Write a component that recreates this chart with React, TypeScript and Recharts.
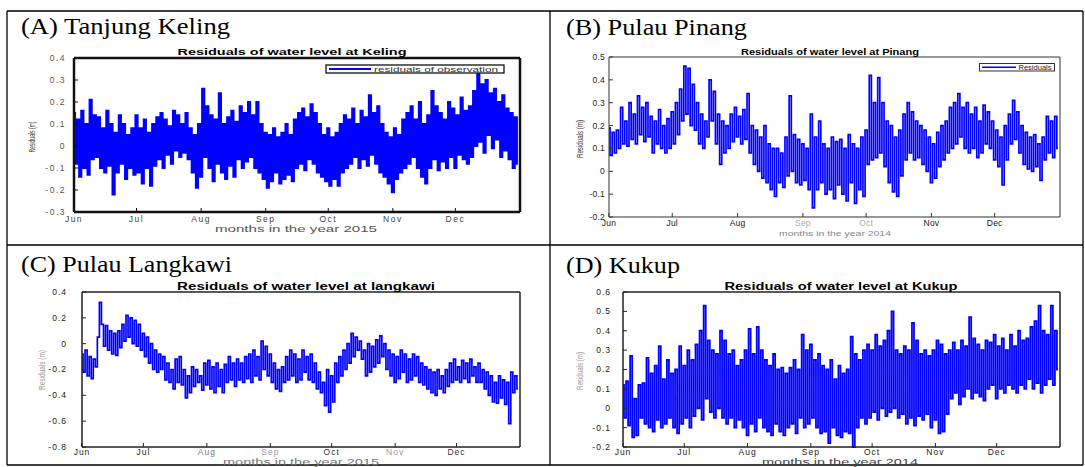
import React from 'react';
import { LineChart, Line, XAxis, YAxis } from 'recharts';

// day offsets of the month starts, Jun 1 .. Dec 1
const monthTicks = [0, 30, 61, 92, 122, 153, 183];
const monthLabels = ['Jun', 'Jul', 'Aug', 'Sep', 'Oct', 'Nov', 'Dec'];

// daily residuals (m) (high / low swing of each day)
const kelingResiduals = [
  0.15, -0.08, 0.12, -0.14, 0.16, -0.1, 0.1, -0.13, 0.21, -0.06,
  0.14, -0.05, 0.13, -0.1, 0.08, -0.12, 0.16, -0.09, 0.1, -0.22,
  0.06, -0.12, 0.14, -0.08, 0.1, -0.15, 0.05, -0.1, 0.08, -0.13,
  0.14, -0.12, 0.08, -0.17, 0.12, -0.1, 0.06, -0.18, 0.1, -0.09,
  0.13, -0.06, 0.15, -0.1, 0.12, -0.04, 0.09, -0.08, 0.16, -0.02,
  0.14, -0.05, 0.1, -0.03, 0.15, -0.06, 0.08, -0.12, 0.05, -0.19,
  0.1, -0.14, 0.26, -0.05, 0.18, -0.1, 0.14, -0.16, 0.12, -0.08,
  0.24, -0.12, 0.1, -0.15, 0.13, -0.09, 0.16, -0.14, 0.11, -0.06,
  0.18, -0.1, 0.15, -0.07, 0.2, -0.05, 0.14, -0.1, 0.2, -0.12,
  0.1, -0.15, 0.06, -0.19, 0.05, -0.16, 0.08, -0.12, 0.04, -0.17,
  0.06, -0.15, 0.1, -0.13, 0.05, -0.16, 0.12, -0.1, 0.15, -0.08,
  0.17, -0.11, 0.13, -0.06, 0.19, -0.08, 0.15, -0.12, 0.1, -0.14,
  0.05, -0.16, 0.08, -0.18, 0.04, -0.15, 0.06, -0.18, 0.1, -0.12,
  0.14, -0.1, 0.12, -0.08, 0.17, -0.05, 0.1, -0.1, 0.16, -0.06,
  0.13, -0.09, 0.23, -0.04, 0.15, -0.08, 0.18, -0.12, 0.1, -0.14,
  0.06, -0.17, 0.04, -0.21, 0.08, -0.15, 0.05, -0.12, 0.12, -0.1,
  0.15, -0.08, 0.18, -0.05, 0.12, -0.1, 0.2, -0.14, 0.1, -0.17,
  0.14, -0.1, 0.25, -0.06, 0.18, -0.11, 0.15, -0.07, 0.12, -0.1,
  0.2, -0.05, 0.17, -0.1, 0.14, -0.04, 0.22, -0.06, 0.16, -0.08,
  0.18, -0.05, 0.25, 0.0, 0.34, 0.02, 0.28, -0.03, 0.3, 0.05,
  0.24, -0.01, 0.26, 0.03, 0.2, -0.05, 0.23, -0.02, 0.17, -0.06,
  0.15, -0.1, 0.13, -0.08,
];

const pinangResiduals = [
  0.19, 0.07, 0.17, 0.08, 0.18, 0.1, 0.28, 0.12, 0.22, 0.11,
  0.3, 0.14, 0.25, 0.12, 0.33, 0.16, 0.28, 0.13, 0.3, 0.15,
  0.24, 0.08, 0.22, 0.12, 0.27, 0.1, 0.2, 0.08, 0.23, 0.1,
  0.26, 0.12, 0.3, 0.16, 0.36, 0.22, 0.46, 0.25, 0.45, 0.2,
  0.38, 0.18, 0.3, 0.12, 0.25, 0.1, 0.22, 0.15, 0.4, 0.22,
  0.35, 0.12, 0.25, 0.03, 0.22, 0.08, 0.2, 0.1, 0.25, 0.13,
  0.28, 0.15, 0.24, 0.12, 0.27, 0.14, 0.34, 0.08, 0.2, 0.03,
  0.18, 0.0, 0.15, -0.03, 0.2, -0.05, 0.12, -0.08, 0.1, -0.11,
  0.1, -0.05, 0.08, -0.07, 0.15, -0.02, 0.33, 0.0, 0.16, -0.05,
  0.14, -0.06, 0.12, -0.04, 0.1, -0.08, 0.25, -0.16, 0.15, -0.08,
  0.22, -0.05, 0.12, -0.1, 0.1, -0.08, 0.15, -0.12, 0.13, -0.06,
  0.14, -0.1, 0.1, -0.13, 0.16, -0.05, 0.12, -0.14, 0.1, -0.08,
  0.15, -0.11, 0.18, 0.03, 0.42, 0.05, 0.3, 0.06, 0.41, 0.08,
  0.3, 0.02, 0.22, -0.05, 0.2, -0.09, 0.15, -0.11, 0.18, -0.02,
  0.25, 0.05, 0.3, 0.08, 0.26, 0.05, 0.22, 0.06, 0.2, 0.03,
  0.18, 0.0, 0.15, -0.05, 0.12, -0.03, 0.17, 0.02, 0.2, 0.05,
  0.22, 0.08, 0.28, 0.1, 0.3, 0.12, 0.34, 0.15, 0.28, 0.1,
  0.3, 0.08, 0.25, 0.1, 0.28, 0.06, 0.22, 0.08, 0.29, 0.12,
  0.26, 0.1, 0.22, 0.05, 0.18, 0.02, 0.15, -0.06, 0.2, 0.05,
  0.25, 0.12, 0.31, 0.14, 0.26, 0.08, 0.2, 0.03, 0.17, 0.01,
  0.15, 0.0, 0.16, 0.02, 0.12, -0.04, 0.15, 0.05, 0.24, 0.08,
  0.22, 0.06, 0.24, 0.1,
];

const langkawiResiduals = [
  -0.08, -0.22, -0.05, -0.25, -0.1, -0.27, -0.12, -0.18, 0.05, 0.32,
  0.15, -0.02, 0.14, -0.05, 0.1, -0.08, 0.08, -0.09, 0.1, -0.03,
  0.15, 0.02, 0.22, 0.05, 0.2, 0.0, 0.18, -0.02, 0.15, -0.05,
  0.08, -0.1, 0.05, -0.15, 0.0, -0.2, -0.05, -0.22, -0.08, -0.2,
  -0.1, -0.28, -0.15, -0.3, -0.2, -0.35, -0.12, -0.3, -0.1, -0.32,
  -0.2, -0.42, -0.25, -0.38, -0.18, -0.33, -0.2, -0.3, -0.25, -0.36,
  -0.15, -0.32, -0.13, -0.35, -0.18, -0.38, -0.15, -0.33, -0.2, -0.38,
  -0.16, -0.3, -0.1, -0.28, -0.15, -0.33, -0.12, -0.28, -0.15, -0.3,
  -0.1, -0.27, -0.08, -0.3, -0.05, -0.25, -0.1, -0.28, 0.02, -0.2,
  -0.02, -0.25, -0.08, -0.3, -0.15, -0.35, -0.2, -0.37, -0.18, -0.3,
  -0.1, -0.28, -0.05, -0.25, -0.08, -0.3, -0.12, -0.28, -0.05, -0.22,
  -0.1, -0.28, -0.08, -0.3, -0.15, -0.35, -0.22, -0.38, -0.3, -0.48,
  -0.2, -0.53, -0.25, -0.45, -0.15, -0.3, -0.1, -0.25, -0.05, -0.2,
  0.0, -0.15, 0.08, -0.1, 0.05, -0.05, 0.02, -0.12, -0.05, -0.25,
  0.0, -0.22, -0.02, -0.18, 0.03, -0.15, 0.06, -0.1, 0.0, -0.2,
  -0.05, -0.25, -0.08, -0.3, -0.1, -0.27, -0.05, -0.22, -0.08, -0.3,
  -0.12, -0.28, -0.08, -0.25, -0.1, -0.3, -0.15, -0.32, -0.18, -0.35,
  -0.2, -0.38, -0.22, -0.4, -0.2, -0.35, -0.25, -0.38, -0.2, -0.33,
  -0.15, -0.3, -0.12, -0.28, -0.18, -0.3, -0.13, -0.27, -0.15, -0.3,
  -0.12, -0.25, -0.18, -0.3, -0.15, -0.3, -0.2, -0.35, -0.22, -0.4,
  -0.25, -0.45, -0.3, -0.46, -0.25, -0.42, -0.28, -0.47, -0.3, -0.62,
  -0.22, -0.38, -0.25, -0.35,
];

const kukupResiduals = [
  0.12, -0.05, 0.14, -0.09, 0.27, -0.15, 0.05, -0.14, 0.12, -0.05,
  0.13, -0.08, 0.26, -0.1, 0.18, -0.12, 0.22, -0.06, 0.32, -0.1,
  0.15, -0.08, 0.25, -0.05, 0.18, -0.1, 0.2, -0.13, 0.32, -0.08,
  0.22, -0.05, 0.3, -0.1, 0.25, -0.04, 0.33, 0.0, 0.4, -0.06,
  0.53, 0.05, 0.35, -0.02, 0.3, -0.05, 0.28, 0.0, 0.4, -0.05,
  0.35, -0.08, 0.28, -0.05, 0.3, -0.1, 0.22, -0.06, 0.25, -0.1,
  0.3, -0.14, 0.41, -0.08, 0.28, -0.12, 0.42, -0.05, 0.3, -0.1,
  0.25, -0.12, 0.22, -0.14, 0.28, -0.08, 0.2, -0.12, 0.21, -0.14,
  0.18, -0.1, 0.21, -0.08, 0.25, -0.13, 0.2, -0.05, 0.38, -0.1,
  0.3, -0.08, 0.33, -0.05, 0.25, -0.1, 0.28, -0.13, 0.22, -0.12,
  0.2, -0.18, 0.25, -0.1, 0.15, -0.14, 0.22, -0.15, 0.18, -0.12,
  0.2, -0.13, 0.37, -0.2, 0.28, -0.1, 0.25, -0.05, 0.3, -0.08,
  0.33, -0.05, 0.3, -0.02, 0.38, -0.06, 0.32, 0.0, 0.35, -0.04,
  0.4, -0.02, 0.5, 0.0, 0.3, -0.05, 0.28, -0.03, 0.32, -0.08,
  0.3, -0.05, 0.44, -0.09, 0.35, -0.04, 0.28, -0.06, 0.3, -0.03,
  0.27, -0.1, 0.3, -0.06, 0.35, -0.13, 0.33, -0.12, 0.28, -0.03,
  0.3, 0.05, 0.34, 0.08, 0.3, 0.02, 0.35, 0.06, 0.32, 0.1,
  0.47, 0.05, 0.36, 0.08, 0.33, 0.06, 0.3, 0.04, 0.35, 0.1,
  0.34, 0.12, 0.38, 0.05, 0.32, 0.1, 0.36, 0.08, 0.3, 0.12,
  0.38, 0.1, 0.32, 0.08, 0.4, 0.12, 0.35, 0.1, 0.36, 0.15,
  0.42, 0.1, 0.45, 0.13, 0.53, 0.08, 0.4, 0.12, 0.38, 0.15,
  0.53, 0.12, 0.4, 0.2,
];

const kelingTicks = [-0.3, -0.2, -0.1, 0, 0.1, 0.2, 0.3, 0.4];
const pinangTicks = [-0.2, -0.1, 0, 0.1, 0.2, 0.3, 0.4, 0.5];
const langkawiTicks = [-0.8, -0.6, -0.4, -0.2, 0, 0.2, 0.4];
const kukupTicks = [-0.2, -0.1, 0, 0.1, 0.2, 0.3, 0.4, 0.5, 0.6];

const SANS = '"Liberation Sans", Arial, sans-serif';
const SERIF = '"Liberation Serif", "Times New Roman", serif';
const BLUE = '#0000ff';

const PAD_L = 60;
const PAD_T = 20;
const PAD_R = 10;
const PAD_B = 30;

interface Box { x: number; y: number; w: number; h: number }

interface ChartProps {
  values: number[];
  box: Box;
  yDomain: [number, number];
  yTicks: number[];
  axisColor: string;
  axisWidth: number;
  fontSize: number;
  spacing: number;
  yTickColor: string;
  monthColors: string[];
  yGap: number;
  xGap: number;
  lineWidth: number;
}

const ResidualChart = ({
  values, box, yDomain, yTicks, axisColor, axisWidth, fontSize, spacing, yTickColor, monthColors, yGap, xGap, lineWidth,
}: ChartProps) => {
  const rows = values.map((v, i) => ({ day: i, v }));

  const MonthTick = (p: any) => (
    <text x={p.x} y={p.y} dy="0.35em" textAnchor="middle" fontFamily={SANS} fontSize={fontSize}
      letterSpacing={spacing} fill={monthColors[p.index] || '#222'}>
      {monthLabels[p.index]}
    </text>
  );
  const ValueTick = (p: any) => (
    <text x={p.x} y={p.y} dy="0.35em" textAnchor="end" fontFamily={SANS} fontSize={fontSize}
      letterSpacing={spacing} fill={yTickColor}>
      {String(p.payload.value)}
    </text>
  );

  const line = { stroke: axisColor, strokeWidth: axisWidth };
  const tickLine = { stroke: axisColor, strokeWidth: 1 };

  return (
    <div style={{ position: 'absolute', left: box.x - PAD_L, top: box.y - PAD_T }}>
      <LineChart
        width={box.w + PAD_L + PAD_R}
        height={box.h + PAD_T + PAD_B}
        data={rows}
        margin={{ top: 0, right: 0, bottom: 0, left: 0 }}
      >
        <XAxis xAxisId="b" dataKey="day" type="number" domain={[0, 214]} ticks={monthTicks}
          height={PAD_B} interval={0} axisLine={line} tickLine={tickLine} tickSize={-4} tickMargin={4 + xGap}
          tick={<MonthTick />} />
        <XAxis xAxisId="t" orientation="top" dataKey="day" type="number" domain={[0, 214]} ticks={monthTicks}
          height={PAD_T} interval={0} axisLine={line} tickLine={tickLine} tickSize={-4} tick={false} />
        <YAxis yAxisId="l" type="number" domain={yDomain} ticks={yTicks} width={PAD_L} interval={0}
          axisLine={line} tickLine={tickLine} tickSize={-4} tickMargin={4 + yGap} tick={<ValueTick />} />
        <YAxis yAxisId="r" orientation="right" type="number" domain={yDomain} ticks={yTicks} width={PAD_R}
          interval={0} axisLine={line} tickLine={tickLine} tickSize={-4} tick={false} />
        <Line xAxisId="b" yAxisId="l" type="step" dataKey="v" stroke={BLUE} strokeWidth={lineWidth}
          dot={false} activeDot={false} isAnimationActive={false} />
      </LineChart>
    </div>
  );
};

const boxA: Box = { x: 74, y: 58, w: 446, h: 154 };
const boxB: Box = { x: 609, y: 57, w: 451, h: 160 };
const boxC: Box = { x: 82, y: 292, w: 438, h: 155 };
const boxD: Box = { x: 623, y: 292, w: 437, h: 155 };

const Fit = ({ x, y, w, size, children, anchor = 'middle', weight = 400, color = '#000', family = SANS }: any) => (
  <text x={x} y={y} textAnchor={anchor} fontFamily={family} fontSize={size} fontWeight={weight} fill={color}
    textLength={w} lengthAdjust="spacingAndGlyphs">
    {children}
  </text>
);

const YLabel = ({ x, y, len, color, size = 9 }: any) => (
  <text transform={`translate(${x},${y}) rotate(-90)`} textAnchor="middle" dominantBaseline="central"
    fontFamily={SANS} fontSize={size} fill={color} textLength={len} lengthAdjust="spacingAndGlyphs">
    Residuals (m)
  </text>
);

export default function App() {
  return (
    <div style={{ position: 'absolute', left: 0, top: 0, width: 1085, height: 467, background: '#fff', overflow: 'hidden' }}>
      <ResidualChart values={kelingResiduals} box={boxA} yDomain={[-0.3, 0.4]} yTicks={kelingTicks}
        axisColor="#111" axisWidth={2.5} fontSize={8.5} spacing={1.5} yTickColor="#555"
        monthColors={['#444', '#444', '#444', '#444', '#444', '#444', '#444']} yGap={8} xGap={7} lineWidth={2.1} />
      <ResidualChart values={pinangResiduals} box={boxB} yDomain={[-0.2, 0.5]} yTicks={pinangTicks}
        axisColor="#333" axisWidth={1} fontSize={8.5} spacing={0.2} yTickColor="#222"
        monthColors={['#222', '#222', '#222', '#aaa', '#aaa', '#222', '#222']} yGap={4} xGap={6} lineWidth={1.7} />
      <ResidualChart values={langkawiResiduals} box={boxC} yDomain={[-0.8, 0.4]} yTicks={langkawiTicks}
        axisColor="#222" axisWidth={1.5} fontSize={8.5} spacing={1} yTickColor="#222"
        monthColors={['#222', '#222', '#777', '#999', '#333', '#999', '#333']} yGap={15} xGap={5} lineWidth={1.7} />
      <ResidualChart values={kukupResiduals} box={boxD} yDomain={[-0.2, 0.6]} yTicks={kukupTicks}
        axisColor="#222" axisWidth={1.5} fontSize={8.5} spacing={1} yTickColor="#222"
        monthColors={['#222', '#222', '#222', '#222', '#222', '#222', '#222']} yGap={12} xGap={5} lineWidth={1.8} />

      <svg width={1085} height={467} style={{ position: 'absolute', left: 0, top: 0, pointerEvents: 'none' }}>
        {/* table grid */}
        <g stroke="#000" strokeWidth={1.3}>
          <line x1={7} y1={11} x2={1083} y2={11} />
          <line x1={7} y1={465} x2={1083} y2={465} />
          <line x1={7} y1={11} x2={7} y2={465} />
          <line x1={1083} y1={11} x2={1083} y2={465} />
          <line x1={550} y1={11} x2={550} y2={465} />
          <line x1={7} y1={245} x2={1083} y2={245} />
        </g>

        {/* panel captions */}
        <Fit x={21} y={34} w={209} size={23} anchor="start" family={SERIF}>(A) Tanjung Keling</Fit>
        <Fit x={566} y={35} w={181} size={23} anchor="start" family={SERIF}>(B) Pulau Pinang</Fit>
        <Fit x={21} y={272} w={211} size={23} anchor="start" family={SERIF}>(C) Pulau Langkawi</Fit>
        <Fit x={566} y={273} w={114} size={23} anchor="start" family={SERIF}>(D) Kukup</Fit>

        {/* chart titles */}
        <Fit x={292} y={55} w={229} size={9} weight={700}>Residuals of water level at Keling</Fit>
        <Fit x={830} y={55} w={178} size={9} weight={700}>Residuals of water level at Pinang</Fit>
        <Fit x={306} y={289.5} w={258} size={10} weight={700}>Residuals of water level at langkawi</Fit>
        <Fit x={841} y={289.5} w={233} size={10} weight={700}>Residuals of water level at Kukup</Fit>

        {/* x labels */}
        <Fit x={296} y={232} w={162} size={9} color="#555">months in the year 2015</Fit>
        <Fit x={835} y={236} w={112} size={8} color="#888">months in the year 2014</Fit>
        <Fit x={301} y={465} w={156} size={8.5} color="#777">months in the year 2015</Fit>
        <Fit x={840} y={465} w={156} size={8.5} color="#444">months in the year 2014</Fit>

        {/* y labels */}
        <YLabel x={32} y={137} len={31} color="#444" />
        <YLabel x={580} y={139} len={38} color="#333" />
        <YLabel x={42} y={370} len={40} color="#999" />
        <YLabel x={580} y={371} len={38} color="#999" />

        {/* legend A */}
        <rect x={326} y={65} width={178} height={8} fill="#fff" stroke="#111" strokeWidth={1.3} />
        <line x1={329} y1={69} x2={371} y2={69} stroke={BLUE} strokeWidth={2} />
        <Fit x={374} y={71.6} w={124} size={7.5} anchor="start" color="#333">residuals of observation</Fit>

        {/* legend B */}
        <rect x={979.5} y={63.5} width={75} height={7.5} fill="#fff" stroke="#333" strokeWidth={1} />
        <line x1={982} y1={67.2} x2={1016} y2={67.2} stroke={BLUE} strokeWidth={1.5} />
        <Fit x={1018.5} y={69.8} w={33} size={7} anchor="start" color="#222">Residuals</Fit>
      </svg>
    </div>
  );
}
